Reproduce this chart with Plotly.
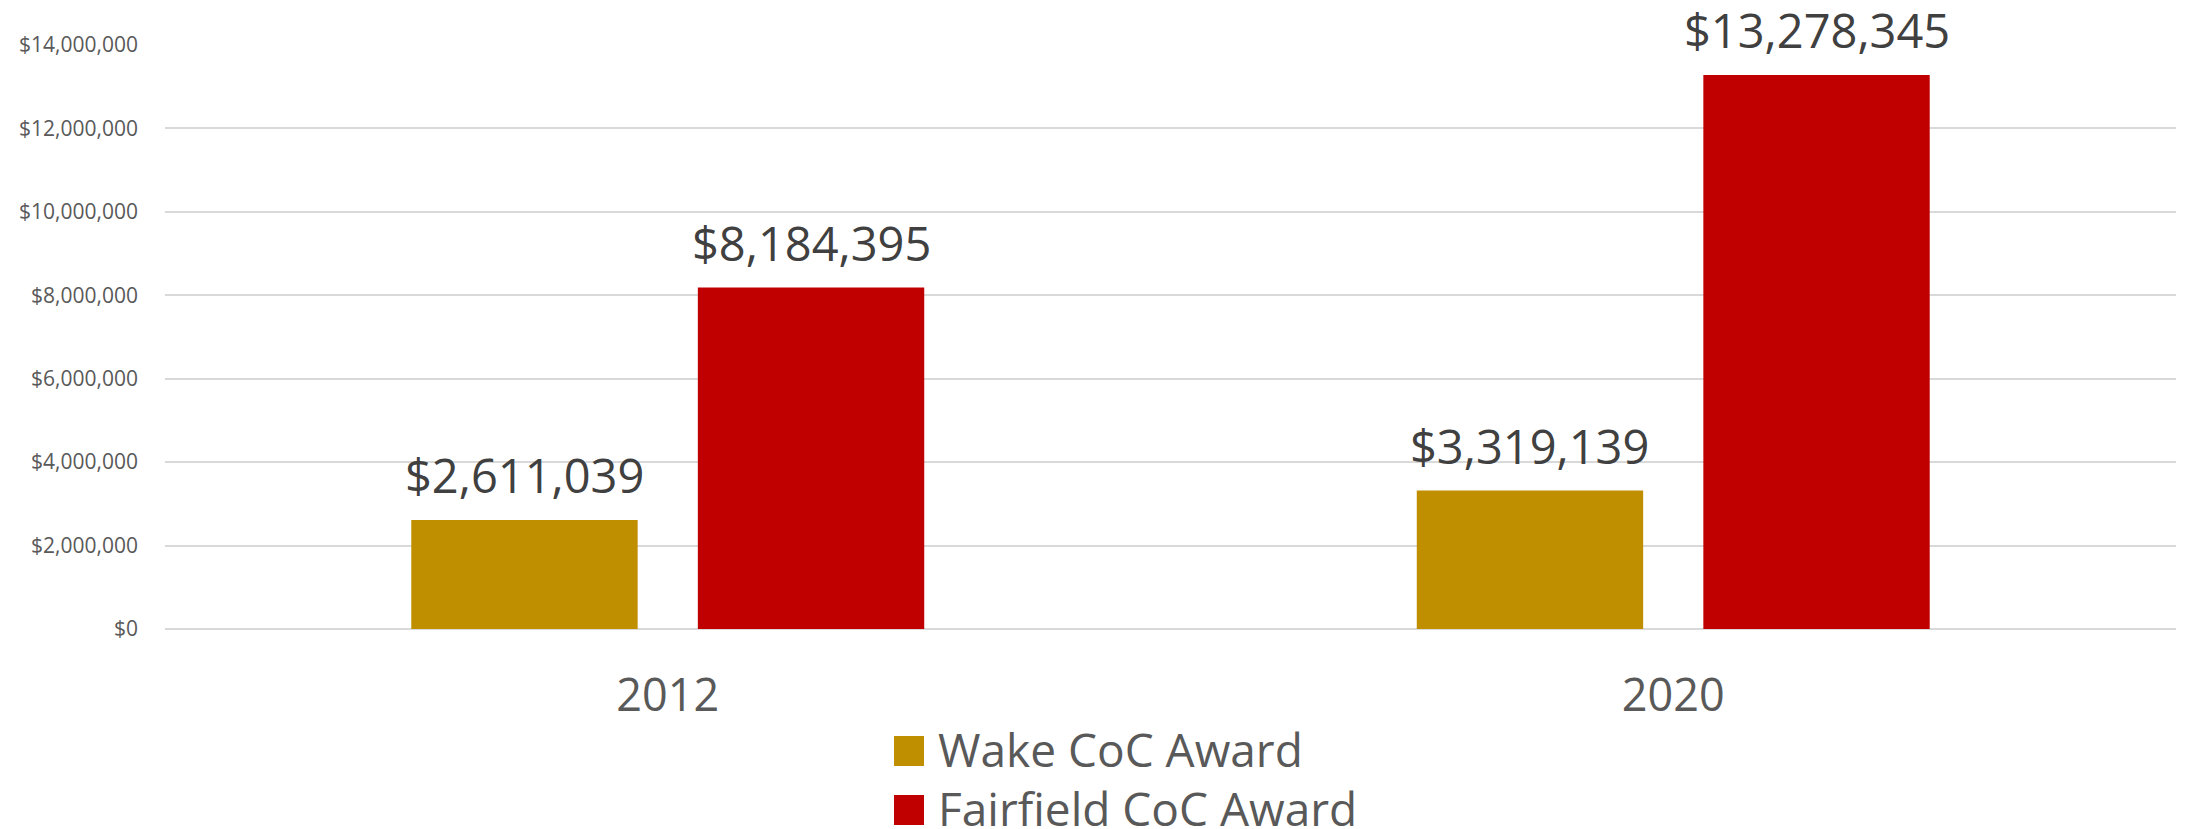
import plotly.graph_objects as go

# ---- data ----
years = ["2012", "2020"]
series_names = ["Wake CoC Award", "Fairfield CoC Award"]
wake_award = [2611039, 3319139]
fairfield_award = [8184395, 13278345]
y_ticks = [0, 2000000, 4000000, 6000000, 8000000, 10000000, 12000000, 14000000]

colors = ["#BF8F00", "#C00000"]
series_values = [wake_award, fairfield_award]

FONT = "Open Sans"
TXT = "#404040"
AX = "#595959"

# page has an 8px body margin: figure origin sits at (8, 8)
OFF = 8
W, H = 2190 - OFF, 829 - OFF
ml, mr, mt, mb = 165 - OFF, 14, 45 - OFF, 200
pw, ph = W - ml - mr, H - mt - mb
BARGAP, GROUPGAP = 0.43, 0.21

fig = go.Figure()
for name, vals, col in zip(series_names, series_values, colors):
    fig.add_trace(go.Bar(
        x=years, y=vals, name=name,
        marker=dict(color=col, line=dict(width=0)),
        showlegend=False,
    ))

def px_x(px):  # page pixel -> paper
    return (px - OFF - ml) / pw

def px_y(py):
    return (H - mb - (py - OFF)) / ph

# data labels above each bar (placed on the axes' scales; category index on x)
slot_px = pw / len(years) * (1 - BARGAP) / len(series_names)
annotations = []
for i, vals in enumerate(series_values):
    for j, v in enumerate(vals):
        annotations.append(dict(
            x=j, y=v, xref="x", yref="y",
            xshift=(i - (len(series_names) - 1) / 2) * slot_px,
            yshift=11, yanchor="bottom", xanchor="center", showarrow=False,
            text="${:,.0f}".format(v),
            font=dict(family=FONT, size=47, color=TXT)))

# custom legend (large squares like the original)
legend_rows = [751, 810]
shapes = []
for name, col, cy in zip(series_names, colors, legend_rows):
    shapes.append(dict(type="rect", xref="paper", yref="paper",
                       x0=px_x(894), x1=px_x(924), y0=px_y(cy + 15), y1=px_y(cy - 15),
                       fillcolor=col, line=dict(width=0)))
    annotations.append(dict(xref="paper", yref="paper", x=px_x(936), y=px_y(cy - 2),
                            xanchor="left", yanchor="middle", showarrow=False,
                            text=name, font=dict(family=FONT, size=46, color=AX)))

fig.update_layout(
    width=W, height=H,
    margin=dict(l=ml, r=mr, t=mt, b=mb, pad=0),
    paper_bgcolor="white", plot_bgcolor="white",
    barmode="group", bargap=BARGAP, bargroupgap=GROUPGAP,
    font=dict(family=FONT, color=AX),
    xaxis=dict(type="category", range=[-0.5, len(years) - 0.5],
               showgrid=False, showline=False, ticks="",
               tickfont=dict(family=FONT, size=45, color=AX),
               ticklabelstandoff=36),
    yaxis=dict(range=[0, 14000000], tickvals=y_ticks, tickformat="$,.0f",
               showgrid=True, gridcolor="#D9D9D9", gridwidth=1.5,
               zeroline=True, zerolinecolor="#D9D9D9", zerolinewidth=1.5,
               showline=False, ticks="",
               tickfont=dict(family=FONT, size=21, color=AX),
               ticklabelstandoff=26),
    shapes=shapes,
    annotations=annotations,
    showlegend=False,
)

fig.write_html("out.html")
